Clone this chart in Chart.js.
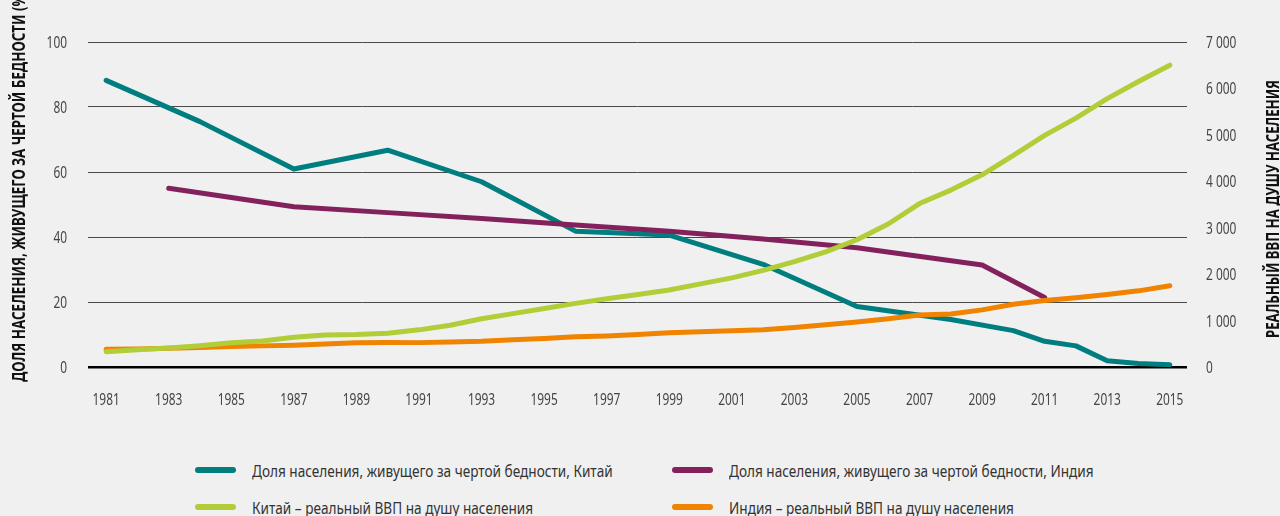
<!DOCTYPE html>
<html lang="ru">
<head>
<meta charset="UTF-8">
<title>Бедность и ВВП на душу населения: Китай и Индия</title>
<script src="https://cdn.jsdelivr.net/npm/chart.js"></script>
<style>
  html, body { margin: 0; padding: 0; background: #f0f0f0; }
  body { width: 1280px; height: 516px; position: relative; overflow: hidden;
         font-family: "Noto Sans", "Open Sans", sans-serif; }
  #wrap { position: absolute; left: 0; top: 0; width: 1280px; height: 420px; }
  .legend-item { position: absolute; display: flex; align-items: center; height: 20px; white-space: nowrap; }
  .legend-item i { display: inline-block; width: 41px; height: 6px; border-radius: 3px; margin-right: 16px; }
  .legend-item span { display: inline-block; font-size: 17px; color: #333;
                      transform: scaleX(0.8); transform-origin: left center; }
</style>
</head>
<body>
<div id="wrap"><canvas id="chart"></canvas></div>

<div class="legend-item" style="left:195px; top:460px;"><i style="background:#007d7f"></i><span>Доля населения, живущего за чертой бедности, Китай</span></div>
<div class="legend-item" style="left:672px; top:460px;"><i style="background:#83215c"></i><span>Доля населения, живущего за чертой бедности, Индия</span></div>
<div class="legend-item" style="left:195px; top:497px;"><i style="background:#b1cd38"></i><span>Китай – реальный ВВП на душу населения</span></div>
<div class="legend-item" style="left:672px; top:497px;"><i style="background:#f08300"></i><span>Индия – реальный ВВП на душу населения</span></div>

<script>
  // x-axis labels (every second year)
  const tickYears = [1981, 1983, 1985, 1987, 1989, 1991, 1993, 1995, 1997, 1999,
                     2001, 2003, 2005, 2007, 2009, 2011, 2013, 2015];

  // poverty share, % (survey years only)
  const chinaPovYears = [1981, 1984, 1987, 1990, 1993, 1996, 1999, 2002, 2005, 2008, 2010, 2011, 2012, 2013, 2014, 2015];
  const chinaPoverty  = [88.2, 75.5, 60.9, 66.7, 57.0, 41.8, 40.6, 31.6, 18.6, 14.6, 11.2, 7.9, 6.5, 1.9, 1.1, 0.7];

  const indiaPovYears = [1983, 1987, 1990, 1993, 1996, 1999, 2002, 2005, 2009, 2011];
  const indiaPoverty  = [55.0, 49.3, 47.5, 45.7, 43.7, 41.8, 39.4, 36.7, 31.4, 21.4];

  // real GDP per capita, annual
  const gdpYears = [1981, 1982, 1983, 1984, 1985, 1986, 1987, 1988, 1989, 1990,
                    1991, 1992, 1993, 1994, 1995, 1996, 1997, 1998, 1999, 2000,
                    2001, 2002, 2003, 2004, 2005, 2006, 2007, 2008, 2009, 2010,
                    2011, 2012, 2013, 2014, 2015];
  const chinaGdp = [330, 370, 410, 460, 520, 560, 640, 690, 700, 725,
                    800, 900, 1040, 1150, 1260, 1370, 1470, 1560, 1660, 1790,
                    1920, 2080, 2270, 2480, 2740, 3080, 3520, 3810, 4140, 4560,
                    4990, 5360, 5780, 6150, 6500];
  const indiaGdp = [380, 390, 405, 420, 440, 455, 470, 495, 520, 530,
                    525, 540, 555, 585, 615, 650, 670, 700, 740, 760,
                    780, 800, 850, 910, 970, 1040, 1120, 1140, 1230, 1350,
                    1430, 1490, 1560, 1640, 1750];

  const pairs = (xs, ys) => xs.map((x, i) => ({ x: x, y: ys[i] }));

  const FONT = '"Noto Sans", "Open Sans", sans-serif';
  const SQUEEZE = 0.7;   // narrow tick lettering

  const fmtThousands = v => v >= 1000 ? Math.floor(v / 1000) + ' ' + String(v % 1000).padStart(3, '0') : String(v);

  // draws text squeezed horizontally around (x, y)
  function squeezed(ctx, text, x, y, sx) {
    ctx.save();
    ctx.translate(x, y);
    ctx.scale(sx, 1);
    ctx.fillText(text, 0, 0);
    ctx.restore();
  }

  // tick labels in narrow lettering, positioned from the chart's scales
  const narrowTicks = {
    id: 'narrowTicks',
    afterDraw(chart) {
      const { ctx, chartArea, scales } = chart;
      ctx.save();
      ctx.fillStyle = '#444';
      ctx.font = '17px ' + FONT;
      ctx.textBaseline = 'alphabetic';

      ctx.textAlign = 'right';
      scales.y.ticks.forEach(t => {
        squeezed(ctx, String(t.value), chartArea.left - 21, scales.y.getPixelForValue(t.value) + 6, SQUEEZE);
      });

      ctx.textAlign = 'left';
      scales.y2.ticks.forEach(t => {
        squeezed(ctx, fmtThousands(t.value), chartArea.right + 19, scales.y2.getPixelForValue(t.value) + 6, SQUEEZE);
      });

      ctx.textAlign = 'center';
      scales.x.ticks.forEach(t => {
        squeezed(ctx, String(t.value), scales.x.getPixelForValue(t.value), chartArea.bottom + 38, SQUEEZE);
      });
      ctx.restore();
    }
  };

  // rotated axis titles, both reading bottom to top
  const axisTitles = {
    id: 'axisTitles',
    afterDraw(chart) {
      const ctx = chart.ctx;
      ctx.save();
      ctx.fillStyle = '#111';
      ctx.font = 'bold 17px ' + FONT;
      ctx.textAlign = 'left';
      ctx.textBaseline = 'alphabetic';

      const title = (text, x, y, len) => {
        const w = ctx.measureText(text).width;
        ctx.save();
        ctx.translate(x, y);
        ctx.rotate(-Math.PI / 2);
        ctx.scale(len / w, 1);
        ctx.fillText(text, 0, 0);
        ctx.restore();
      };
      title('ДОЛЯ НАСЕЛЕНИЯ, ЖИВУЩЕГО ЗА ЧЕРТОЙ БЕДНОСТИ (%)', 25, 382, 392);
      title('РЕАЛЬНЫЙ ВВП НА ДУШУ НАСЕЛЕНИЯ', 1279, 338, 258);
      ctx.restore();
    }
  };

  const line = (label, data, color, axis) => ({
    label, data, yAxisID: axis,
    borderColor: color, backgroundColor: color,
    borderWidth: 5, borderCapStyle: 'round', borderJoinStyle: 'round',
    pointRadius: 0, tension: 0, fill: false
  });

  new Chart(document.getElementById('chart'), {
    type: 'line',
    data: {
      datasets: [
        line('Китай – реальный ВВП на душу населения', pairs(gdpYears, chinaGdp), '#b1cd38', 'y2'),
        line('Индия – реальный ВВП на душу населения', pairs(gdpYears, indiaGdp), '#f08300', 'y2'),
        line('Доля населения, живущего за чертой бедности, Индия', pairs(indiaPovYears, indiaPoverty), '#83215c', 'y'),
        line('Доля населения, живущего за чертой бедности, Китай', pairs(chinaPovYears, chinaPoverty), '#007d7f', 'y')
      ]
    },
    options: {
      responsive: true,
      maintainAspectRatio: false,
      animation: false,
      layout: { padding: { top: 42, left: 0, right: 0, bottom: 0 } },
      plugins: { legend: { display: false }, tooltip: { enabled: false } },
      scales: {
        x: {
          type: 'linear',
          min: 1980.42,
          max: 2015.55,
          afterBuildTicks: axis => { axis.ticks = tickYears.map(v => ({ value: v })); },
          afterFit: s => { s.height = 53; },
          grid: { display: false, drawTicks: false },
          border: { display: false },
          ticks: { display: false }
        },
        y: {
          position: 'left',
          min: 0, max: 100,
          afterFit: s => { s.width = 88; },
          grid: {
            drawTicks: false,
            color: c => c.tick.value === 0 ? '#000' : '#4a4a4a',
            lineWidth: c => c.tick.value === 0 ? 2.5 : 1
          },
          border: { display: false },
          ticks: { stepSize: 20, display: false }
        },
        y2: {
          position: 'right',
          min: 0, max: 7000,
          afterFit: s => { s.width = 93; },
          grid: { display: false, drawTicks: false },
          border: { display: false },
          ticks: { stepSize: 1000, display: false }
        }
      }
    },
    plugins: [narrowTicks, axisTitles]
  });
</script>
</body>
</html>
